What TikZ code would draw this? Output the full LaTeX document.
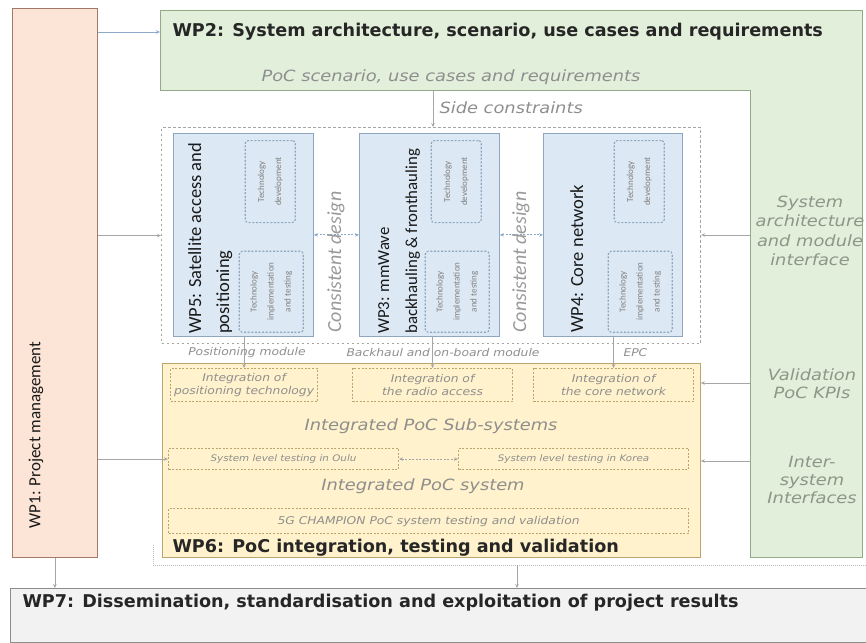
\documentclass[tikz,border=0pt]{standalone}
\usepackage{fontspec}
\setmainfont{Carlito}
\newfontfamily\verd{DejaVu Sans}
\newfontfamily\verdw{DejaVu Sans}[FakeStretch=1.15]
\usetikzlibrary{arrows.meta,positioning}

\definecolor{wpone}{HTML}{FCE4D6}
\definecolor{wponeline}{HTML}{A5776A}
\definecolor{wptwo}{HTML}{E2EFDA}
\definecolor{wptwoline}{HTML}{93A98A}
\definecolor{wpblue}{HTML}{DCE8F4}
\definecolor{wpblueline}{HTML}{8EA6C0}
\definecolor{wpsix}{HTML}{FFF2CC}
\definecolor{wpsixline}{HTML}{B8A66E}
\definecolor{wpseven}{HTML}{F2F2F2}
\definecolor{wpsevenline}{HTML}{8C8C8C}
\definecolor{softtext}{HTML}{8E8E8E}
\definecolor{greentext}{HTML}{8D9689}
\definecolor{linkgray}{HTML}{A6A6A6}
\definecolor{linkblue}{HTML}{8EAACB}

\tikzset{
  wpbox/.style={draw, anchor=north west, inner sep=0pt, line width=0.8pt},
  techbox/.style={draw=wpblueline, rounded corners=3pt, line width=1.1pt,
                  dash pattern=on 2pt off 1.6pt, inner sep=0pt},
  intbox/.style={draw=wpsixline, line width=1.1pt, dash pattern=on 2pt off 1.6pt,
                 anchor=north west, inner sep=0pt, align=center,
                 font=\verdw\itshape\fontsize{10.7}{13}\selectfont, text=softtext},
  title/.style={font=\verd\bfseries\fontsize{17.6}{20}\selectfont, text=black!85},
  wptxt/.style={font=\fontsize{18.5}{28}\selectfont, text=black!90},
  soft/.style={font=\verdw\itshape\fontsize{15.5}{19.5}\selectfont, text=softtext, align=center},
  small/.style={font=\verdw\itshape\fontsize{10.7}{12}\selectfont, text=softtext},
  tech/.style={font=\fontsize{9}{17}\selectfont, text=black!50, align=center, rotate=90},
  cons/.style={font=\itshape\fontsize{20}{22}\selectfont, text=softtext!90, rotate=90},
  flow/.style={-{Stealth[length=4pt,width=3.5pt]}, draw=linkgray, line width=0.7pt},
  both/.style={{Stealth[length=4pt,width=3.5pt]}-{Stealth[length=4pt,width=3.5pt]},
               draw=linkblue, line width=0.9pt, dash pattern=on 2pt off 1.5pt},
}

\begin{document}
\begin{tikzpicture}[x=1pt,y=-1pt]
\useasboundingbox (0,0) rectangle (866,642);

\node[wpbox, fill=wpone, draw=wponeline, minimum width=85pt, minimum height=549pt] (wp1) at (12,8) {};
\node[wptxt, rotate=90, font=\fontsize{17}{20}\selectfont] (wp1t) at (36,435) {WP1: Project management};

\draw[draw=wptwoline, fill=wptwo, line width=0.8pt] (160,10) -- (862,10) -- (862,557)
  -- (750,557) -- (750,90) -- (160,90) -- cycle;
\node[title, anchor=west] (wp2) at (169,32) {WP2: System architecture, scenario, use cases and requirements};
\node[soft] (poc) at (451,77) {PoC scenario, use cases and requirements};
\coordinate (wp2s) at (433,90);
\coordinate (arch) at (750,235);
\coordinate (kpi) at (750,383);
\coordinate (inter) at (750,461);

\node[draw=linkgray, dash pattern=on 2.5pt off 2.5pt, line width=1.2pt, anchor=north west,
      minimum width=539pt, minimum height=216pt, inner sep=0pt] (design) at (161,127) {};

\node[wpbox, fill=wpblue, draw=wpblueline, minimum width=140pt, minimum height=203pt] (wp5) at (173,133) {};
\node[wpbox, fill=wpblue, draw=wpblueline, minimum width=140pt, minimum height=203pt] (wp3) at (359,133) {};
\node[wpbox, fill=wpblue, draw=wpblueline, minimum width=139pt, minimum height=203pt] (wp4) at (543,133) {};
\node[wptxt, rotate=90, anchor=north west, align=left, inner sep=0pt] (wp5t) at (188,334)
  {WP5: Satellite access and\\positioning};
\node[wptxt, rotate=90, anchor=north west, align=left, inner sep=0pt,
      font=\fontsize{16.8}{28}\selectfont] (wp3t) at (378,334)
  {WP3: mmWave\\backhauling \& fronthauling};
\node[wptxt, rotate=90, anchor=north west, align=left, inner sep=0pt] (wp4t) at (570,333)
  {WP4: Core network};

\foreach \w in {wp5,wp3,wp4}{
  \node[techbox, minimum width=50pt, minimum height=82pt, anchor=north east]
    (\w dev) at ([xshift=-18pt,yshift=-7pt]\w.north east) {};
  \node[tech] (\w devt) at (\w dev) {Technology\\development};
  \node[techbox, minimum width=64pt, minimum height=81pt, anchor=south east]
    (\w imp) at ([xshift=-10pt,yshift=4pt]\w.south east) {};
  \node[tech] (\w impt) at (\w imp) {Technology\\implementation\\and testing};
}

\draw[both] (wp5) -- (wp3);
\draw[both] (wp3) -- (wp4);
\node[cons] (cd1) at (336,262) {Consistent design};
\node[cons] (cd2) at (521,262) {Consistent design};

\draw[flow, draw=linkblue] (wp1.east |- wp2) -- (wp2.west -| 160,0);
\draw[flow] (wp1.east |- design.west) -- (design.west);
\draw[flow] (arch) -- (arch -| design.east);
\draw[flow] (wp2s) -- (wp2s |- design.north);
\node[soft, anchor=west] (side) at (436,108) {Side constraints};
\node[soft, text=greentext] (archt) at (810,231) {System\\architecture\\and module\\interface};

\node[wpbox, fill=wpsix, draw=wpsixline, minimum width=538pt, minimum height=194pt] (wp6) at (162,363) {};
\node[intbox, minimum width=147pt, minimum height=33pt] (intpos) at (170,368) {Integration of\\positioning technology};
\node[intbox, minimum width=160pt, minimum height=33pt] (intradio) at (352,368) {Integration of\\the radio access};
\node[intbox, minimum width=160pt, minimum height=33pt] (intcore) at (533,368) {Integration of\\the core network};
\draw[flow] (wp5.south -| intpos.north) -- (intpos.north);
\draw[flow] (wp3.south -| intradio.north) -- (intradio.north);
\draw[flow] (wp4.south -| intcore.north) -- (intcore.north);
\node[small] (posm) at (247,353) {Positioning module};
\node[small] (bhm) at (443,353) {Backhaul and on-board module};
\node[small, anchor=west] (epc) at (620,353) {EPC};

\node[soft] (sub) at (431,426) {Integrated PoC Sub-systems};
\node[intbox, minimum width=230pt, minimum height=21pt, font=\verdw\itshape\fontsize{9}{11}\selectfont]
  (oulu) at (168,448) {System level testing in Oulu};
\node[intbox, minimum width=230pt, minimum height=21pt, font=\verdw\itshape\fontsize{9}{11}\selectfont]
  (korea) at (458,448) {System level testing in Korea};
\draw[both, draw=linkgray] (oulu) -- (korea);
\draw[flow] (wp1.east |- oulu.west) -- (oulu.west);
\node[soft] (sys) at (423,486) {Integrated PoC system};
\node[intbox, minimum width=520pt, minimum height=25pt] (champ) at (168,508) {5G CHAMPION PoC system testing and validation};
\node[title, anchor=west] (wp6t) at (169,548) {WP6: PoC integration, testing and validation};
\draw[flow] (kpi) -- (kpi -| wp6.east);
\draw[flow] (inter) -- (inter -| wp6.east);
\node[soft, text=greentext, font=\verdw\itshape\fontsize{15.5}{18}\selectfont] (kpit) at (812,384) {Validation\\PoC KPIs};
\node[soft, text=greentext, font=\verdw\itshape\fontsize{15.5}{18}\selectfont] (intert) at (812,480) {Inter-\\system\\Interfaces};

\coordinate (poc0) at (153,545);
\coordinate (poc1) at (153,565);
\coordinate (poc2) at (866,565);
\coordinate (out) at (517,565);
\draw[draw=linkgray!80, line width=0.7pt, dash pattern=on 1pt off 1pt] (poc0) -- (poc1) -- (poc2);

\node[wpbox, fill=wpseven, draw=wpsevenline, minimum width=860pt, minimum height=54pt] (wp7) at (10,588) {};
\node[title, anchor=west] (wp7t) at (19,603)
  {WP7: Dissemination, standardisation and exploitation of project results};
\draw[flow] (wp1.south) -- (wp1.south |- wp7.north);
\draw[flow] (out) -- (out |- wp7.north);
\end{tikzpicture}
\end{document}
